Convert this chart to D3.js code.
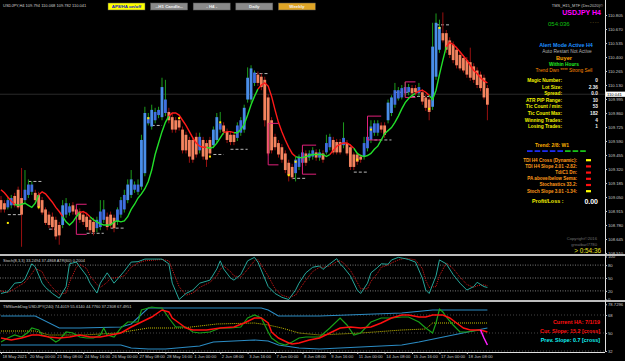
<!DOCTYPE html>
<html lang="en">
<head>
<meta charset="UTF-8">
<title>USDJPY H4</title>
<script src="https://d3js.org/d3.v7.min.js"></script>
<style>
  body { margin: 0; background: #000; }
  svg { display: block; }
  text { font-family: "Liberation Sans", Arial, sans-serif; }
</style>
</head>
<body>
<div id="chart"></div>
<script>
// ---- heikin ashi candles (USDJPY H4) ----
const haOpen = [
  109.02,108.99,108.95,108.97,109.06,109.12,109.04,109.02,109.07,109.10,
  109.09,109.07,109.02,108.93,108.88,108.86,108.83,108.78,108.78,108.88,
  108.90,108.97,108.93,108.91,108.88,108.86,108.83,108.81,108.75,108.76,
  108.83,108.86,108.88,108.85,108.81,108.88,108.93,109.02,109.07,109.12,
  109.10,109.15,109.28,109.76,109.73,109.79,109.84,109.82,109.86,109.87,
  109.82,109.79,109.79,109.70,109.65,109.60,109.60,109.63,109.50,109.60,
  109.57,109.60,109.55,109.60,109.70,109.74,109.68,109.65,109.65,109.62,
  109.67,109.70,109.99,109.99,110.15,110.23,110.21,110.18,110.01,109.79,
  109.63,109.57,109.53,109.47,109.38,109.34,109.28,109.34,109.38,109.47,
  109.43,109.44,109.48,109.43,109.47,109.48,109.53,109.60,109.58,109.58,
  109.55,109.57,109.53,109.46,109.46,109.44,109.44,109.52,109.60,109.67,
  109.67,109.74,109.74,109.79,109.86,109.94,110.00,110.01,110.05,110.06,
  110.10,110.10,110.05,110.06,110.01,109.99,109.92,110.21,110.47,110.63,
  110.63,110.56,110.52,110.47,110.42,110.39,110.37,110.35,110.31,110.27,
  110.23,110.20,110.10
];
const haClose = [
  108.93,108.93,109.02,109.04,108.97,108.95,108.88,109.12,109.17,109.17,
  109.02,108.95,108.90,108.80,108.78,108.76,108.67,108.68,108.97,108.99,
  108.96,108.91,108.88,108.83,108.81,108.76,108.73,108.71,108.83,108.91,
  108.93,108.76,108.78,108.75,108.93,109.02,109.07,109.17,109.22,109.17,
  109.17,109.60,109.86,109.82,109.89,109.87,109.89,110.11,109.99,109.79,
  109.70,109.70,109.72,109.50,109.50,109.44,109.41,109.46,109.63,109.44,
  109.41,109.47,109.70,109.82,109.76,109.68,109.60,109.58,109.58,109.74,
  109.79,109.91,110.20,110.29,110.25,110.15,110.11,109.79,109.47,109.50,
  109.53,109.46,109.41,109.31,109.26,109.24,109.41,109.44,109.48,109.38,
  109.47,109.50,109.43,109.48,109.41,109.57,109.63,109.48,109.48,109.48,
  109.62,109.47,109.34,109.34,109.39,109.41,109.57,109.63,109.73,109.76,
  109.76,109.70,109.65,109.96,110.01,110.08,110.08,110.10,110.11,110.11,
  110.05,110.06,110.11,109.97,109.91,109.87,110.50,110.73,110.69,110.56,
  110.47,110.42,110.37,110.32,110.29,110.27,110.23,110.20,110.18,110.13,
  110.10,110.01,109.94
];
const haHigh = [
  109.06,109.02,109.05,109.07,109.09,109.15,109.33,109.31,109.22,109.20,
  109.12,109.10,109.05,108.95,108.91,108.90,108.86,108.81,109.02,109.04,
  108.99,109.00,108.95,108.94,108.91,108.90,108.86,108.85,108.86,109.02,
  109.02,108.90,108.91,108.88,108.95,109.05,109.12,109.22,109.31,109.20,
  109.22,109.65,109.92,109.86,109.94,109.91,109.92,110.20,110.18,109.91,
  109.86,109.82,109.82,109.73,109.68,109.63,109.63,109.67,109.67,109.63,
  109.60,109.63,109.73,109.86,109.87,109.77,109.71,109.68,109.68,109.77,
  109.82,109.94,110.30,110.32,110.27,110.26,110.24,110.21,110.04,109.82,
  109.66,109.60,109.56,109.50,109.41,109.37,109.44,109.46,109.51,109.50,
  109.50,109.53,109.51,109.51,109.50,109.65,109.66,109.63,109.61,109.61,
  109.77,109.60,109.56,109.48,109.48,109.46,109.63,109.73,109.79,109.79,
  109.79,109.77,109.77,109.99,110.03,110.15,110.11,110.13,110.16,110.14,
  110.13,110.13,110.15,110.09,110.04,110.01,110.73,110.82,110.76,110.83,
  110.66,110.59,110.55,110.50,110.45,110.42,110.40,110.49,110.34,110.30,
  110.26,110.23,110.13
];
const haLow = [
  108.90,108.90,108.93,108.94,108.95,108.93,108.57,108.99,109.04,109.07,
  108.99,108.93,108.88,108.78,108.75,108.73,108.64,108.59,108.75,108.85,
  108.87,108.88,108.85,108.80,108.78,108.73,108.70,108.68,108.71,108.73,
  108.80,108.73,108.75,108.71,108.78,108.85,108.90,108.99,109.04,109.09,
  109.07,109.12,109.25,109.74,109.70,109.76,109.81,109.79,109.83,109.76,
  109.67,109.67,109.69,109.47,109.47,109.38,109.38,109.43,109.47,109.41,
  109.34,109.45,109.52,109.57,109.67,109.65,109.57,109.55,109.55,109.59,
  109.64,109.67,109.96,109.96,110.12,110.12,110.08,109.73,109.45,109.47,
  109.50,109.43,109.38,109.28,109.20,109.22,109.20,109.31,109.35,109.35,
  109.40,109.41,109.40,109.40,109.38,109.46,109.50,109.46,109.46,109.46,
  109.52,109.45,109.31,109.31,109.36,109.38,109.41,109.49,109.57,109.64,
  109.64,109.67,109.62,109.76,109.83,109.91,109.98,109.99,110.02,110.03,
  110.02,110.03,110.02,109.94,109.88,109.79,109.89,110.18,110.44,110.54,
  110.44,110.39,110.34,110.29,110.27,110.25,110.20,110.17,110.15,110.10,
  110.07,109.99,109.79
];

// trend line on price (red falling / green rising)
const trendLine = [
  109.12,109.09,109.05,109.01,108.98,108.97,108.98,108.99,108.97,108.95,
  108.99,109.07,109.10,109.08,109.04,109.00,108.95,108.91,108.86,108.81,
  108.78,108.81,108.86,108.90,108.91,108.89,108.86,108.83,108.81,108.79,
  108.78,108.78,108.78,108.81,108.82,108.81,108.82,108.86,108.93,108.98,
  109.04,109.08,109.13,109.20,109.31,109.46,109.57,109.68,109.77,109.83,
  109.86,109.86,109.84,109.79,109.74,109.68,109.62,109.57,109.54,109.53,
  109.53,109.52,109.53,109.57,109.62,109.67,109.68,109.68,109.67,109.67,
  109.70,109.75,109.84,109.94,110.02,110.09,110.13,110.15,110.12,110.02,
  109.89,109.77,109.68,109.60,109.53,109.47,109.44,109.43,109.43,109.44,
  109.45,109.46,109.46,109.46,109.46,109.44,109.46,109.50,109.54,109.56,
  109.57,109.57,109.55,109.52,109.47,109.45,109.44,109.45,109.47,109.51,
  109.54,109.60,109.66,109.69,109.72,109.77,109.83,109.90,109.96,110.00,
  110.03,110.05,110.07,110.08,110.06,110.03,109.99,110.08,110.23,110.37,
  110.50,110.54,110.52,110.49,110.45,110.41,110.37,110.32,110.27,110.24,
  110.20,110.17,110.15
];
const trendRunStart = [0,5,12,19,24,27,50,61,66,69,76,87,97,104,122,126,131];
const trendRunDir   = [-1,1,-1,1,-1,1,-1,1,-1,1,-1,1,-1,1,-1,1,-1];

// short support / resistance dashes [fromBar, toBar, price]
const srBars0 = [2,8,14,25,32,44,62,67,74,85,103,109,115,120,127];
const srBars1 = [6,12,17,30,36,47,65,72,78,89,107,114,119,125,131];
const srPrice = [108.88,109.20,108.74,108.70,108.75,109.74,109.46,109.51,110.24,109.23,109.29,109.60,110.06,110.02,110.71];

// magenta range brackets
const brkBar0 = [22,78,88,107,118];
const brkBar1 = [25,81,92,111,121];
const brkHigh = [108.98,109.76,109.55,109.83,110.16];
const brkLow  = [108.69,109.36,109.27,109.60,110.01];

// yellow signal dots
const dotBars   = [2,11,43,52,61,64,84,86,104,108,125,128];
const dotPrices = [108.80,108.95,109.81,109.81,109.44,109.77,109.26,109.39,109.41,109.70,109.90,110.68];

// stochastic (8,3,3)
const stBars = [0,2,4,6,7,9,10,12,13,15,17,19,20,22,23,25,26,28,29,31,32,33,36,38,40,42,47,49,50,52,54,56,58,61,63,64,65,67,68,70,72,74,75,78,80,82,84,86,87,89,91,93,94,96,98,99,100,102,104,105,107,108,110,111,113,114,116,118,119,121,123,124,125,127,128,130,132,134,136,138,139,141,142];
const stMain = [14,18,38,40,48,83,76,38,28,14,3,30,83,87,76,55,38,15,38,62,50,38,66,87,88,94,94,83,38,0,14,22,38,45,71,90,71,50,45,58,90,98,87,30,14,5,0,22,38,62,75,78,70,83,95,83,75,55,22,14,38,62,75,83,82,92,98,95,93,87,50,22,14,55,92,83,58,38,22,30,40,30,28];
const stSignal = [20,16,25,35,40,60,72,65,48,28,12,15,40,75,82,72,55,35,28,40,50,50,55,75,85,90,93,90,70,30,10,15,28,40,55,70,78,65,55,52,70,90,93,55,25,10,5,10,22,45,65,75,75,78,88,90,85,68,40,25,25,42,62,75,80,85,92,96,95,92,72,45,28,30,55,85,72,52,35,28,32,34,32];
const stLevels = [80, 50, 20];
const stTicks = [100, 80, 50, 20, 0];

// TDI sub window
const bandBars = [0,10,17,23,35,38,43,46,76,78,81,93,117,126,142];
const bandUp   = [67,67,55,55,56,59,75,75,75,73,67,67,70,73,73];
const lowBars  = [0,23,35,38,43,48,58,62,74,78,81,87,93,117,122,142];
const bandLow  = [38,38,38,35,34,34,37,41,43,42,38,35,34,38,41,55];
const baseBars = [0,10,14,24,34,43,53,58,63,74,78,82,87,93,105,117,124,126,142];
const baseLine = [52,52,48,48,50,55,55,57,59,60,58,55,50,48,50,53,54,60,60];
const rsiBars = [0,2,4,6,8,9,11,12,14,16,17,19,21,23,25,27,29,30,31,33,35,37,38,40,41,44,46,47,49,51,54,56,58,61,64,67,70,72,74,76,78,79,81,83,85,87,89,91,93,96,99,101,103,105,108,111,114,117,119,122,124,126,127,128,129,130,132,134,136,138,140];
const rsiLine = [41,45,48,46,51,55,53,48,46,41,43,51,50,46,45,45,48,55,48,46,55,61,61,61,73,76,75,75,65,56,56,51,50,51,55,55,56,65,68,65,51,45,40,38,41,45,46,46,46,55,65,58,48,50,61,65,65,66,66,61,55,50,60,74,71,66,58,51,51,52,53];
const rsiTailBars = [140,141,142];
const rsiTail = [53,45,38];
const sigBars = [0,3,6,9,11,14,17,20,23,26,29,32,35,38,41,44,47,49,50,52,54,56,60,64,68,71,74,76,78,79,81,84,85,87,90,93,96,99,102,105,108,111,114,117,119,122,124,126,129,131,133,135,137,140,142];
const sigLine = [45,43,45,48,48,46,45,46,48,46,46,48,50,56,61,66,73,71,65,60,55,53,53,55,56,60,65,65,60,51,45,40,39,40,43,45,50,55,56,55,56,60,65,68,68,66,66,68,68,65,60,55,53,53,51];
const tdiLevels = [68, 50, 32];
const tdiTicks = [78.7296, 68, 50, 32];

// time axis: one label every 8 bars
const timeLabels = ["18 May 2021","20 May 00:00","21 May 08:00","24 May 16:00","26 May 00:00","27 May 08:00",
  "28 May 16:00","1 Jun 00:00","2 Jun 08:00","3 Jun 16:00","7 Jun 00:00","8 Jun 08:00","9 Jun 16:00",
  "11 Jun 00:00","14 Jun 08:00","15 Jun 16:00","17 Jun 00:00","18 Jun 08:00"];
const priceTicks = [110.805,110.670,110.535,110.400,110.265,110.130,109.995,109.860,109.725,
  109.590,109.455,109.320,109.185,109.050,108.915,108.780,108.645,108.510];
const lastPrice = 110.041;

// info panel
const buttons = ["AP8/HA on/off","--H1 Candle--","- H4 -","Daily","Weekly"];
const infoLabels = ["Magic Number:","Lot Size:","Spread:","ATR PIP Range:","Tic Count / min:","Tic Count Max:","Winning Trades:","Losing Trades:"];
const infoValues = ["0","2.36","0.0","10","53","182","4","1"];
const trendBoxes = [-1,-1,-1,-1,-1,1,1,1];
const tdiRowLabels = ["TDI H4 Cross (Dynamic):","TDI H4 Slope 2.01 -2.82:","TdiC1 Dn:","PA above/below Sema:","Stochastics 33.2:","Stoch Slope 3.01 -1.34:"];
const tdiRowState = [0,-1,-1,-1,-1,0];

// ---- drawing ----
const W = 625, H = 361, AX = 605;
const svg = d3.select("#chart").append("svg").attr("width", W).attr("height", H);
svg.append("rect").attr("width", W).attr("height", H).attr("fill", "#000");

const x = d3.scaleLinear().domain([0, 142]).range([1, 487.4]);
const yP = d3.scaleLinear().domain([108.510, 110.805]).range([253, 15]);
const yS = d3.scaleLinear().domain([0, 100]).range([299.5, 256.5]);
const yT = d3.scaleLinear().domain([50, 68]).range([333, 315]);

function clip(id, y0, y1) {
  svg.append("clipPath").attr("id", id).append("rect").attr("x", 0).attr("y", y0).attr("width", AX).attr("height", y1 - y0);
}
clip("cMain", 0, 254); clip("cSt", 256, 300); clip("cTdi", 302, 352);

function txt(g, s, tx, ty, o) {
  return g.append("text").attr("x", tx).attr("y", ty).text(s)
    .attr("fill", o.fill || "#fff").attr("font-size", o.size || 5)
    .attr("font-weight", o.bold ? "bold" : null)
    .attr("text-anchor", o.anchor || "start")
    .attr("font-family", o.font || null);
}

// main pane
const gm = svg.append("g").attr("clip-path", "url(#cMain)");
gm.append("line").attr("x1", 0).attr("x2", AX).attr("y1", yP(lastPrice)).attr("y2", yP(lastPrice))
  .attr("stroke", "#2a2a2a").attr("stroke-width", 1);

const bars = haOpen.map((o, i) => ({ i, o, c: haClose[i], h: haHigh[i], l: haLow[i] }));

gm.selectAll("line.sr").data(srPrice).join("line").attr("class", "sr")
  .attr("x1", (d, i) => x(srBars0[i])).attr("x2", (d, i) => x(srBars1[i]))
  .attr("y1", d => yP(d)).attr("y2", d => yP(d))
  .attr("stroke", "#b8b8b8").attr("stroke-width", 1).attr("stroke-dasharray", "3,2");

gm.selectAll("line.wick").data(bars).join("line").attr("class", "wick")
  .attr("x1", d => x(d.i)).attr("x2", d => x(d.i))
  .attr("y1", d => yP(d.h)).attr("y2", d => yP(d.l))
  .attr("stroke", d => d.c >= d.o ? "#1c9c1c" : "#9a1010").attr("stroke-width", 1);

gm.selectAll("rect.body").data(bars).join("rect").attr("class", "body")
  .attr("x", d => x(d.i) - 1.4).attr("width", 2.8)
  .attr("y", d => yP(Math.max(d.o, d.c)))
  .attr("height", d => Math.max(1, Math.abs(yP(d.o) - yP(d.c))))
  .attr("fill", d => d.c >= d.o ? (d.c - d.o > 0.15 ? "#4a8ee8" : "#3f6fe0") : "#f4845f");

// brackets
brkBar0.forEach((b, i) => {
  const x0 = x(b), x1 = x(brkBar1[i]);
  const p = d3.path();
  p.moveTo(x1, yP(brkHigh[i])); p.lineTo(x0, yP(brkHigh[i])); p.lineTo(x0, yP(brkLow[i])); p.lineTo(x1, yP(brkLow[i]));
  gm.append("path").attr("d", p.toString()).attr("fill", "none").attr("stroke", "#e0207a").attr("stroke-width", 1);
});

// trend line coloured by run
trendRunStart.forEach((s, k) => {
  const e = k + 1 < trendRunStart.length ? trendRunStart[k + 1] : trendLine.length;
  const idx = d3.range(Math.max(0, s - 1), e);
  const line = d3.line().x(i => x(i)).y(i => yP(trendLine[i]));
  gm.append("path").attr("d", line(idx)).attr("fill", "none")
    .attr("stroke", trendRunDir[k] > 0 ? "#22e02a" : "#ff1a1a").attr("stroke-width", 1.4);
});

gm.selectAll("rect.dot").data(dotBars).join("rect").attr("class", "dot")
  .attr("x", d => x(d) - 1).attr("y", (d, i) => yP(dotPrices[i]) - 1)
  .attr("width", 2).attr("height", 2).attr("fill", "#ffee00");

// stochastic pane
const gs = svg.append("g").attr("clip-path", "url(#cSt)");
gs.selectAll("line.lv").data(stLevels).join("line")
  .attr("x1", 0).attr("x2", AX).attr("y1", d => yS(d)).attr("y2", d => yS(d))
  .attr("stroke", "#9a9a9a").attr("stroke-width", 0.8).attr("stroke-dasharray", "1,1.5");
const stLine = d3.line().x(d => x(d[0])).y(d => yS(d[1]));
gs.append("path").attr("d", stLine(stBars.map((b, i) => [b, stSignal[i]])))
  .attr("fill", "none").attr("stroke", "#d01818").attr("stroke-width", 1).attr("stroke-dasharray", "1,1");
gs.append("path").attr("d", stLine(stBars.map((b, i) => [b, stMain[i]])))
  .attr("fill", "none").attr("stroke", "#26a69a").attr("stroke-width", 1);

// TDI pane
const gt = svg.append("g").attr("clip-path", "url(#cTdi)");
gt.selectAll("line.lv").data(tdiLevels).join("line")
  .attr("x1", 0).attr("x2", AX).attr("y1", d => yT(d)).attr("y2", d => yT(d))
  .attr("stroke", "#555").attr("stroke-width", 0.8).attr("stroke-dasharray", "1,2");
const tLine = d3.line().x(d => x(d[0])).y(d => yT(d[1]));
const pairs = (bs, vs) => bs.map((b, i) => [b, vs[i]]);
gt.append("path").attr("d", tLine(pairs(bandBars, bandUp))).attr("fill", "none").attr("stroke", "#2b8cc4").attr("stroke-width", 1.1);
gt.append("path").attr("d", tLine(pairs(lowBars, bandLow))).attr("fill", "none").attr("stroke", "#2b8cc4").attr("stroke-width", 1.1);
gt.append("path").attr("d", tLine(pairs(baseBars, baseLine))).attr("fill", "none").attr("stroke", "#c8c000").attr("stroke-width", 1).attr("stroke-dasharray", "1,1");
gt.append("path").attr("d", tLine(pairs(rsiBars, rsiLine))).attr("fill", "none").attr("stroke", "#18a018").attr("stroke-width", 1.2);
gt.append("path").attr("d", tLine(pairs(sigBars, sigLine))).attr("fill", "none").attr("stroke", "#ff1010").attr("stroke-width", 1.5);
gt.append("path").attr("d", tLine(pairs(rsiTailBars, rsiTail))).attr("fill", "none").attr("stroke", "#ff20ff").attr("stroke-width", 1.5);

// pane separators and right border
[[254, 256], [300, 302]].forEach(([a, b]) =>
  svg.append("rect").attr("x", 0).attr("y", a).attr("width", W).attr("height", b - a).attr("fill", "#bdbdbd"));
svg.append("line").attr("x1", AX + 0.5).attr("x2", AX + 0.5).attr("y1", 0).attr("y2", 352).attr("stroke", "#e0e0e0");
svg.append("line").attr("x1", 0).attr("x2", AX).attr("y1", 352.5).attr("y2", 352.5).attr("stroke", "#e0e0e0");

function styleAxis(g) {
  g.select(".domain").remove();
  g.selectAll("line").attr("stroke", "#c8c8c8");
  g.selectAll("text").attr("fill", "#c8c8c8").attr("font-size", 4.2).attr("font-family", "Liberation Sans, Arial, sans-serif");
}
const ap = svg.append("g").attr("transform", `translate(${AX},0)`)
  .call(d3.axisRight(yP).tickValues(priceTicks).tickFormat(d3.format(".3f")).tickSize(2).tickPadding(1));
styleAxis(ap);
const as = svg.append("g").attr("transform", `translate(${AX},0)`)
  .call(d3.axisRight(yS).tickValues(stTicks).tickFormat(d3.format("d")).tickSize(2).tickPadding(1));
styleAxis(as);
const at = svg.append("g").attr("transform", `translate(${AX},0)`)
  .call(d3.axisRight(yT).tickValues(tdiTicks).tickFormat(d => Number.isInteger(d) ? d : d.toFixed(4)).tickSize(2).tickPadding(1));
styleAxis(at);
const ax = svg.append("g").attr("transform", "translate(0,352)")
  .call(d3.axisBottom(x).tickValues(timeLabels.map((t, i) => i * 8)).tickFormat((d, i) => timeLabels[i]).tickSize(2).tickPadding(1));
styleAxis(ax);
ax.selectAll("text").attr("text-anchor", "start").attr("x", 1);

// last price box
svg.append("rect").attr("x", AX + 1).attr("y", yP(lastPrice) - 2.6).attr("width", 19).attr("height", 5.2).attr("fill", "#fff");
txt(svg, d3.format(".3f")(lastPrice), AX + 2, yP(lastPrice) + 1.6, { fill: "#000", size: 4.2 });

// header + buttons
txt(svg, "USDJPY,H4  109.794 110.068 109.782 110.041", 3, 6.5, { fill: "#d0d0d0", size: 4 });
const btnFill = ["#ffff00", "#8a8a8a", "#8a8a8a", "#8a8a8a", "#dfa526"];
buttons.forEach((b, i) => {
  const bx = 108 + i * 42.6;
  svg.append("rect").attr("x", bx).attr("y", 3).attr("width", 37).attr("height", 7).attr("fill", btnFill[i])
    .attr("stroke", "#555").attr("stroke-width", 0.5);
  txt(svg, b, bx + 18.5, 8.3, { fill: i === 0 ? "#1020c0" : "#f0f0f0", size: 4.4, bold: true, anchor: "middle" });
});

// info panel text
txt(svg, "TMS_H15_MTF (Dec2020)\u00a9", 603, 6.5, { fill: "#c8c8c8", size: 4, anchor: "end" });
txt(svg, "USDJPY H4", 601, 14.5, { fill: "#ff00ff", size: 7, bold: true, anchor: "end" });
txt(svg, "054:036", 548, 25.5, { fill: "#10c010", size: 6 });
txt(svg, "- - - -", 590, 22.5, { fill: "#c8b040", size: 4 });
txt(svg, "Alert Mode Active H4", 566, 47, { fill: "#1e90ff", size: 5.4, bold: true, anchor: "middle" });
txt(svg, "Auto Restart Not Active", 567, 53, { fill: "#b0b0b0", size: 4.8, anchor: "middle" });
txt(svg, "Buyer", 564, 60, { fill: "#ffa500", size: 5.6, bold: true, anchor: "middle" });
txt(svg, "Within Hours", 564, 65.5, { fill: "#22ee22", size: 4.8, bold: true, anchor: "middle" });
txt(svg, "Trend Dwn **** Strong Sell", 564, 72, { fill: "#ff8c00", size: 4.8, anchor: "middle" });
infoLabels.forEach((l, i) => {
  txt(svg, l, 562, 82 + i * 6.6, { fill: "#f0f000", size: 4.8, bold: true, anchor: "end" });
  txt(svg, infoValues[i], 598, 82 + i * 6.6, { fill: "#f0f0f0", size: 4.8, bold: true, anchor: "end" });
});
txt(svg, "Trend: 2/8: W1", 552, 147, { fill: "#ffb000", size: 5, bold: true, anchor: "middle" });
trendBoxes.forEach((t, i) => {
  svg.append("rect").attr("x", 527 + i * 7.6).attr("y", 150.2).attr("width", 5.6).attr("height", 1.8)
    .attr("fill", t > 0 ? "#18c018" : "#1c2cf0");
});
tdiRowLabels.forEach((l, i) => {
  const yy = 161.5 + i * 6.2;
  txt(svg, l, 577, yy, { fill: "#ff9a1a", size: 4.6, bold: true, anchor: "end" });
  svg.append("rect").attr("x", 586).attr("y", yy - 2.4).attr("width", 5).attr("height", 2.2)
    .attr("fill", tdiRowState[i] < 0 ? "#ff1010" : "#ffff00");
});
txt(svg, "Profit/Loss :", 532, 203, { fill: "#f0f000", size: 5.4, bold: true });
txt(svg, "0.00", 598, 204, { fill: "#ffffff", size: 7, bold: true, anchor: "end" });
txt(svg, "Copyright\u00a92016", 597, 240, { fill: "#707070", size: 4.2, anchor: "end" });
txt(svg, "greatbarl7780", 597, 245.5, { fill: "#707070", size: 4.2, anchor: "end" });
txt(svg, "> 0:54:36", 601, 253, { fill: "#e8e020", size: 6.4, anchor: "end", font: "DejaVu Sans Mono, monospace" });

// sub window labels
txt(svg, "Stoch(8,3,3) 33.2494 37.4868  ATR(60) 0.2004", 3, 261.5, { fill: "#d0d0d0", size: 4 });
txt(svg, "TMSlambDog USDJPY(240) 74.4019 55.6140 44.7760 37.2308 67.4951", 3, 308, { fill: "#d0d0d0", size: 4 });
txt(svg, "Current HA: 7/1/19", 600, 324, { fill: "#ff1010", size: 5.4, bold: true, anchor: "end" });
txt(svg, "Cur. Slope: 15.2 [cross]", 600, 333, { fill: "#ff1010", size: 5.4, bold: true, anchor: "end" });
txt(svg, "Prev. Slope: 0.7 [cross]", 600, 342, { fill: "#10f0f0", size: 5.4, bold: true, anchor: "end" });
</script>
</body>
</html>
